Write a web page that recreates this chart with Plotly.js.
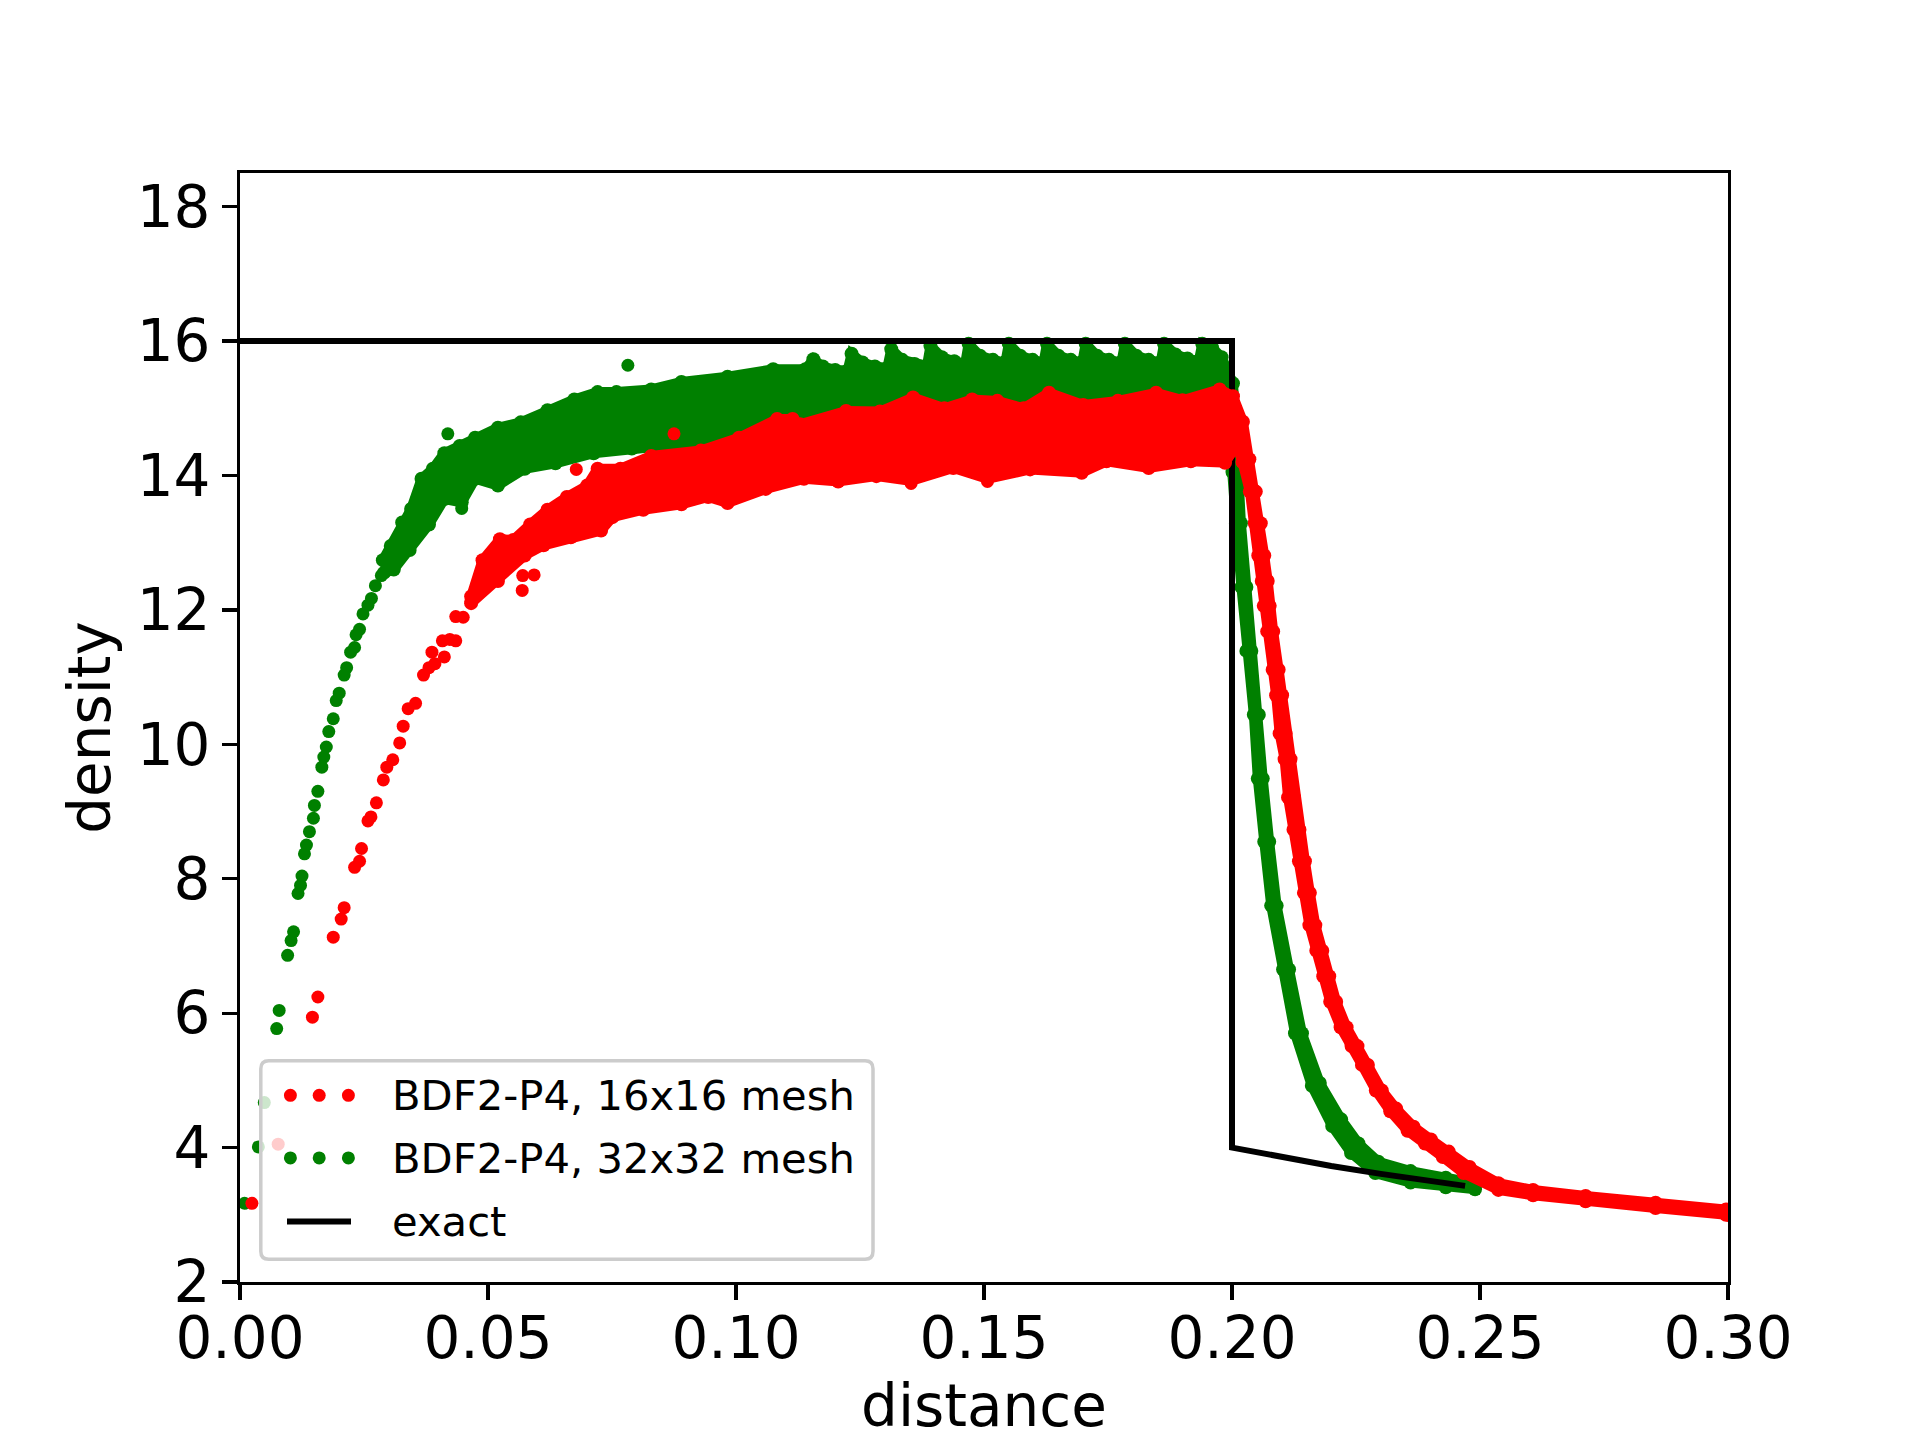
<!DOCTYPE html>
<html><head><meta charset="utf-8">
<script src="https://cdn.plot.ly/plotly-3.0.1.min.js"></script>
<style>html,body{margin:0;padding:0;background:#fff}#chart{width:1920px;height:1440px}</style>
</head><body><div id="chart"></div>
<script>
// ---------- data ----------
const exactX = [0, 0.2, 0.2, 0.21, 0.22, 0.23, 0.24, 0.247];
const exactY = [16, 16, 4.0, 3.857, 3.727, 3.609, 3.5, 3.43];

// 16x16 mesh (red): dense band envelopes (x increasing) and isolated points
const redUpperX = [0.0466,0.0489,0.0524,0.0551,0.0585,0.0620,0.0659,0.0700,0.0721,0.0767,0.0829,0.0929,0.1006,0.1083,0.1114,0.1129,0.1222,0.1290,0.1357,0.1420,0.1476,0.1527,0.1580,0.1631,0.1700,0.1770,0.1847,0.1900,0.1975,0.2002,0.2022,0.2035,0.2048,0.2058,0.2065,0.2072,0.2076,0.2083,0.2094,0.2101,0.2108,0.2118,0.2125,0.2136,0.2147,0.2157,0.2168,0.2182,0.2196,0.2210,0.2231,0.2253,0.2274,0.2302,0.2331,0.2366,0.2401,0.2437,0.2479,0.2537,0.2607,0.2713,0.2854,0.2996,0.3005];
const redUpperY = [12.20,12.74,13.05,13.04,13.27,13.49,13.68,13.85,14.10,14.10,14.29,14.37,14.56,14.84,14.84,14.76,14.96,14.95,15.16,15.00,15.13,15.11,15.00,15.23,15.05,15.11,15.23,15.12,15.28,15.18,14.80,14.24,13.76,13.29,12.81,12.43,12.06,11.68,11.11,10.73,10.16,9.78,9.21,8.73,8.26,7.79,7.31,6.93,6.55,6.17,5.79,5.51,5.23,4.85,4.58,4.31,4.12,3.94,3.71,3.47,3.37,3.28,3.18,3.08,3.07];
const redLowerX = [0.0466,0.0520,0.0574,0.0612,0.0667,0.0728,0.0751,0.0813,0.0890,0.0944,0.0983,0.1060,0.1137,0.1206,0.1283,0.1353,0.1438,0.1507,0.1593,0.1697,0.1747,0.1832,0.1917,0.1986,0.2010,0.2021,0.2036,0.2046,0.2053,0.2060,0.2064,0.2071,0.2082,0.2089,0.2096,0.2106,0.2113,0.2124,0.2135,0.2145,0.2156,0.2170,0.2184,0.2198,0.2219,0.2241,0.2262,0.2290,0.2319,0.2354,0.2389,0.2425,0.2467,0.2537,0.2607,0.2713,0.2854,0.2996,0.3005];
const redLowerY = [12.10,12.43,12.81,12.96,13.08,13.18,13.38,13.49,13.57,13.68,13.59,13.80,13.95,13.91,13.99,13.92,14.11,13.95,14.09,14.04,14.21,14.11,14.21,14.19,14.45,14.20,13.76,13.29,12.81,12.43,12.06,11.68,11.11,10.73,10.16,9.78,9.21,8.73,8.26,7.79,7.31,6.93,6.55,6.17,5.79,5.51,5.23,4.85,4.54,4.25,4.06,3.86,3.62,3.37,3.29,3.20,3.10,3.00,2.99];
const redDotsX = [0.0024,0.0077,0.0146,0.0157,0.0188,0.0204,0.0210,0.0231,0.0241,0.0245,0.0258,0.0264,0.0275,0.0289,0.0296,0.0308,0.0322,0.0329,0.0339,0.0354,0.0370,0.0381,0.0393,0.0387,0.0408,0.0412,0.0423,0.0435,0.0435,0.0450,0.0466,0.0477,0.0493,0.0489,0.0569,0.0570,0.0593,0.0678,0.0875,0.1064,0.1353,0.1507];
const redDotsY = [3.17,4.05,5.94,6.24,7.13,7.40,7.57,8.17,8.26,8.45,8.86,8.92,9.13,9.47,9.66,9.77,10.02,10.27,10.53,10.61,11.03,11.14,11.20,11.37,11.54,11.30,11.56,11.90,11.54,11.89,12.13,12.36,12.34,12.74,12.29,12.51,12.52,14.09,14.62,13.84,13.88,13.91];

// 32x32 mesh (green)
const greenUpperX = [0.0288,0.0304,0.0327,0.0345,0.0366,0.0389,0.0412,0.0443,0.0474,0.0520,0.0566,0.0620,0.0674,0.0721,0.0759,0.0829,0.0890,0.0983,0.1075,0.1140,0.1156,0.1175,0.1200,0.1225,0.1233,0.1255,0.1280,0.1305,0.1313,0.1335,0.1360,0.1385,0.1392,0.1415,0.1440,0.1462,0.1469,0.1492,0.1518,0.1543,0.1550,0.1573,0.1598,0.1620,0.1627,0.1650,0.1675,0.1698,0.1705,0.1728,0.1752,0.1777,0.1784,0.1807,0.1832,0.1856,0.1863,0.1886,0.1910,0.1933,0.1940,0.1960,0.1979,0.2002,0.2008,0.2011,0.2018,0.2029,0.2039,0.2054,0.2062,0.2075,0.2090,0.2115,0.2141,0.2177,0.2220,0.2255,0.2295,0.2360,0.2431,0.2490];
const greenUpperY = [12.74,12.95,13.30,13.50,13.95,14.10,14.33,14.44,14.56,14.71,14.79,14.97,15.13,15.24,15.24,15.28,15.39,15.47,15.58,15.58,15.73,15.62,15.57,15.56,15.81,15.68,15.62,15.60,15.88,15.72,15.66,15.63,15.93,15.76,15.70,15.66,15.96,15.78,15.72,15.68,15.96,15.78,15.72,15.68,15.96,15.78,15.72,15.68,15.96,15.78,15.72,15.68,15.96,15.78,15.72,15.68,15.96,15.80,15.74,15.70,15.96,15.90,15.76,15.37,14.71,14.05,13.29,12.34,11.39,10.44,9.49,8.55,7.60,6.65,5.70,4.96,4.42,4.06,3.79,3.65,3.55,3.47];
const greenLowerX = [0.0290,0.0310,0.0342,0.0381,0.0412,0.0447,0.0474,0.0520,0.0574,0.0636,0.0713,0.0790,0.0906,0.1021,0.1137,0.1300,0.1500,0.1700,0.1900,0.1985,0.1995,0.2001,0.2008,0.2019,0.2029,0.2044,0.2052,0.2065,0.2079,0.2103,0.2127,0.2161,0.2202,0.2240,0.2289,0.2360,0.2431,0.2490];
const greenLowerY = [12.55,12.60,12.89,13.27,13.65,13.60,13.95,13.85,14.10,14.18,14.33,14.40,14.48,14.63,14.71,14.80,14.85,14.90,14.95,14.95,14.60,14.05,13.29,12.34,11.39,10.44,9.49,8.55,7.60,6.65,5.70,4.92,4.32,3.92,3.62,3.48,3.41,3.38];
const greenDotsX = [0.0009,0.0037,0.0049,0.0074,0.0079,0.0096,0.0103,0.0108,0.0117,0.0122,0.0125,0.0130,0.0134,0.0140,0.0148,0.0150,0.0157,0.0165,0.0169,0.0174,0.0179,0.0188,0.0194,0.0200,0.0210,0.0215,0.0223,0.0231,0.0234,0.0241,0.0248,0.0258,0.0265,0.0273,0.0285,0.0296,0.0419,0.0447,0.0782];
const greenDotsY = [3.17,4.01,4.67,5.77,6.04,6.86,7.08,7.21,7.78,7.90,8.04,8.37,8.50,8.70,8.90,9.09,9.30,9.66,9.81,9.96,10.19,10.38,10.65,10.76,11.03,11.14,11.37,11.44,11.63,11.71,11.94,12.07,12.17,12.36,12.51,12.66,14.62,13.51,15.64];

const xTicks = [0, 0.05, 0.10, 0.15, 0.20, 0.25, 0.30];
const xTickText = ['0.00','0.05','0.10','0.15','0.20','0.25','0.30'];
const yTicks = [2, 4, 6, 8, 10, 12, 14, 16, 18];
const legendLabels = ['BDF2-P4, 16x16 mesh', 'BDF2-P4, 32x32 mesh', 'exact'];

// ---------- build ----------
const RED = '#ff0000', GREEN = '#008000';
const MS = 13;      // scatter dot diameter (px)
const BAND_LW = 10; // outline of the dense band
function band(ux, uy, lx, ly, color) {
  return {
    x: ux.concat(lx.slice().reverse()),
    y: uy.concat(ly.slice().reverse()),
    type: 'scatter', mode: 'lines+markers', fill: 'toself', fillcolor: color,
    line: {color: color, width: BAND_LW, shape: 'linear'},
    marker: {color: color, size: MS + 1, line: {width: 0}},
    hoverinfo: 'skip', showlegend: false
  };
}
function dots(x, y, color) {
  return {x: x, y: y, type: 'scatter', mode: 'markers',
    marker: {color: color, size: MS, line: {width: 0}}, showlegend: false};
}
const traces = [
  band(greenUpperX, greenUpperY, greenLowerX, greenLowerY, GREEN),
  dots(greenDotsX, greenDotsY, GREEN),
  {x: exactX, y: exactY, type: 'scatter', mode: 'lines', line: {color: '#000', width: 6}, showlegend: false},
  band(redUpperX, redUpperY, redLowerX, redLowerY, RED),
  dots(redDotsX, redDotsY, RED)
];

// plot area in pixels (matplotlib default subplot box)
const L = 240, R = 1728, T = 172.8, B = 1281.6;
const W = R - L, H = B - T;
const px = X => (X - L) / W;
const py = Y => (B - Y) / H;

// custom legend (matplotlib style with 3 scatter points)
const fx0 = px(260.8), fx1 = px(873), fy0 = py(1258.8), fy1 = py(1060.4);
const rx = 8 / W, ry = 8 / H;
const framePath = `M ${fx0+rx},${fy0} L ${fx1-rx},${fy0} Q ${fx1},${fy0} ${fx1},${fy0+ry} L ${fx1},${fy1-ry} Q ${fx1},${fy1} ${fx1-rx},${fy1} L ${fx0+rx},${fy1} Q ${fx0},${fy1} ${fx0},${fy1-ry} L ${fx0},${fy0+ry} Q ${fx0},${fy0} ${fx0+rx},${fy0} Z`;
const rows = [1095, 1157.5, 1221];
const dotXs = [290.4, 319.2, 348.4];
const shapes = [{type: 'path', path: framePath, xref: 'paper', yref: 'paper', layer: 'above',
  fillcolor: 'rgba(255,255,255,0.8)', line: {color: '#cccccc', width: 3.5}}];
[RED, GREEN].forEach((c, i) => {
  dotXs.forEach(dx => shapes.push({type: 'circle', xref: 'paper', yref: 'paper', layer: 'above',
    xsizemode: 'pixel', ysizemode: 'pixel', xanchor: px(dx), yanchor: py(rows[i]),
    x0: -MS/2, x1: MS/2, y0: -MS/2, y1: MS/2, fillcolor: c, line: {width: 0}}));
});
shapes.push({type: 'line', xref: 'paper', yref: 'paper', layer: 'above',
  x0: px(287), x1: px(351), y0: py(rows[2]), y1: py(rows[2]), line: {color: '#000', width: 6}});
const annotations = legendLabels.map((t, i) => ({text: t, xref: 'paper', yref: 'paper',
  x: px(391), y: py(rows[i]), xanchor: 'left', yanchor: 'middle', showarrow: false,
  height: 50, borderpad: 0,
  font: {family: 'DejaVu Sans', size: 41.7, color: '#000'}}));

const axisCommon = {
  showline: true, mirror: true, linecolor: '#000', linewidth: 3.3,
  ticks: 'outside', ticklen: 14.6, tickwidth: 3.3, tickcolor: '#000',
  showgrid: false, zeroline: false,
  tickfont: {family: 'DejaVu Sans', size: 58, color: '#000'}
};
const layout = {
  width: 1920, height: 1440,
  margin: {l: L, r: 1920 - R, t: T, b: 1440 - B, pad: 0},
  paper_bgcolor: '#fff', plot_bgcolor: '#fff',
  showlegend: false,
  font: {family: 'DejaVu Sans', color: '#000'},
  xaxis: Object.assign({}, axisCommon, {range: [0, 0.3], tickvals: xTicks, ticktext: xTickText,
    ticklabelstandoff: -12,
    title: {text: 'distance', font: {family: 'DejaVu Sans', size: 58, color: '#000'}, standoff: 30}}),
  yaxis: Object.assign({}, axisCommon, {range: [2, 18.5], tickvals: yTicks,
    title: {text: 'density', font: {family: 'DejaVu Sans', size: 58, color: '#000'}, standoff: 8}}),
  shapes: shapes,
  annotations: annotations
};
Plotly.newPlot('chart', traces, layout, {staticPlot: true, displayModeBar: false});
</script>
</body></html>
